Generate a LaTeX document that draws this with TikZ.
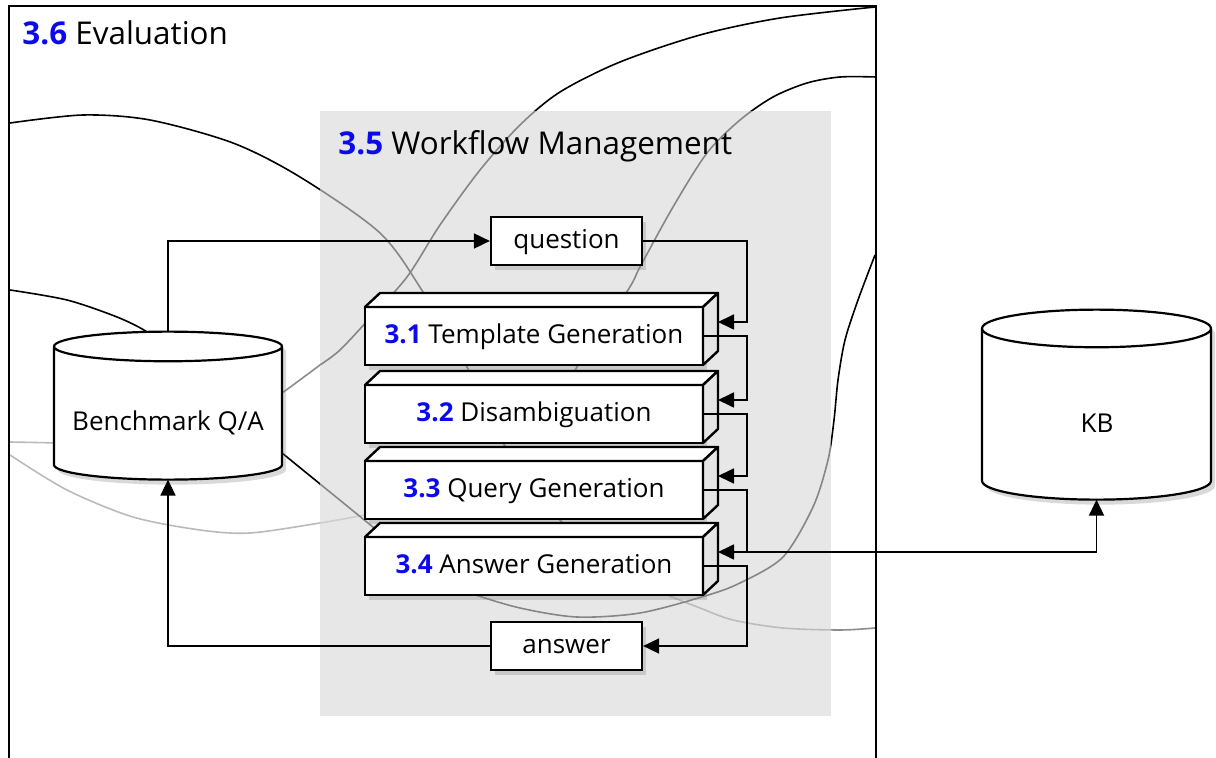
\documentclass[tikz,border=0pt]{standalone}
\usepackage{fontspec}
\setmainfont{Open Sans}
\usepackage{tikz}
\usetikzlibrary{calc}
\usetikzlibrary{positioning}
\usetikzlibrary{shapes.geometric}
\usetikzlibrary{arrows.meta}
\usetikzlibrary{shadows}
\usepackage{xcolor}
\definecolor{numblue}{RGB}{10,10,235}
\newcommand{\secno}[1]{\textcolor{numblue}{\bfseries #1}}

\begin{document}
\begin{tikzpicture}[
		x=0.5pt, y=-0.5pt,
		font=\fontsize{13}{15}\selectfont,
		boxshadow/.style = {drop shadow={opacity=0.3, shadow xshift=2pt, shadow yshift=-2.5pt}},
		stepbox/.style = {rectangle, draw, fill=white, line width=1.2pt, outer sep=0pt, minimum width=169pt, minimum height=29pt, inner sep=0pt, text height=0.72em, text depth=0pt, boxshadow},
		face/.style = {draw, line width=1.2pt, line join=round},
		io/.style = {rectangle, draw, fill=white, line width=1.1pt, minimum width=75.5pt, minimum height=24pt, inner sep=0pt, text height=0.72em, text depth=0pt, boxshadow},
		db/.style = {cylinder, shape border rotate=90, draw, fill=white, line width=1.1pt, outer sep=0pt, inner xsep=57pt, boxshadow},
		title/.style = {font=\fontsize{15.7}{19}\selectfont, inner sep=0pt, anchor=base west},
		wfarea/.style = {rectangle, fill=black!15, fill opacity=0.62, inner sep=0pt, anchor=north west},
		curve/.style = {line width=0.8pt},
		r/.style = {-{Triangle[length=8pt, width=7.5pt]}, line width=0.9pt}
		]
		\useasboundingbox (0,0) rectangle (1216,758);
		
		%Curves
		\draw[curve] plot[smooth] coordinates {(10,123) (83,115) (150,120) (233,143) (300,177) (380,233) (423,292) (467,367) (503,443) (560,520) (620,570) (650,585)};
		\draw[curve, draw=black!45] plot[smooth] coordinates {(640,578) (663,593) (700,608) (733,620) (783,628) (840,630) (875,628)};
		\draw[curve] plot[smooth] coordinates {(875,7) (780,18) (700,35) (620,62) (560,92) (520,125) (480,170) (440,225) (407,277) (370,318) (340,350) (320,365)};
		\draw[curve, draw=black!45] plot[smooth] coordinates {(320,365) (282,393) (265,403)};
		\draw[curve] plot[smooth] coordinates {(876,77) (840,77) (807,83) (773,97) (740,120) (707,153) (673,207) (640,267) (628,290) (577,367) (550,420)};
		\draw[curve] plot[smooth] coordinates {(875,255) (858,300) (845,340) (838,380) (834,420) (828,460) (813,507) (783,557) (740,583) (705,596) (640,613) (577,617) (520,608) (470,593) (440,580)};
		\draw[curve] plot[smooth] coordinates {(10,290) (67,300) (117,317) (147,332) (165,350)};
		\draw[curve, draw=black!27] (10,442) -- (60,443);
		\draw[curve, draw=black!27] plot[smooth] coordinates {(10,455) (67,490) (133,517) (200,530) (250,533) (320,523) (365,515) (390,511)};
		\draw[curve] (282,453) -- (395,545);
		
		%Areas
		\node[wfarea, minimum width=255.5pt, minimum height=302.5pt] (wf) at (320,111) {};
		\draw[line width=1.1pt] (9,780) |- (876,6) -- (876,780);
		\node[title] (evalTitle) at (22,45) {\secno{3.6} Evaluation};
		\node[title] (wfTitle) at (338,155) {\secno{3.5} Workflow Management};
		
		%Nodes
		\node[db, minimum width=114pt, minimum height=74pt, shape aspect=0.13] (bqa) at (168,421) {};
		\node (bqaText) at (168,423) {Benchmark Q/A};
		\node[db, minimum width=114.5pt, minimum height=95pt, shape aspect=0.165] (kb) at (1096.5,424) {};
		\node (kbText) at (1097,423) {KB};
		\node[io] (question) at (566.5,241) {question};
		\node[io] (answer) at (566.5,646) {answer};
		\node[stepbox] (s1) at (534,336) {\secno{3.1} Template Generation};
		\node[stepbox] (s2) at (534,414) {\secno{3.2} Disambiguation};
		\node[stepbox] (s3) at (534,490) {\secno{3.3} Query Generation};
		\node[stepbox] (s4) at (534,566) {\secno{3.4} Answer Generation};
		\foreach \s in {s1,s2,s3,s4}{
			\draw[face, fill=white] (\s.north west) -- ++(15,-14) -- ($(\s.north east)+(15,-14)$) -- (\s.north east) -- cycle;
			\draw[face, fill=black!10] (\s.north east) -- ++(15,-14) -- ($(\s.south east)+(15,-14)$) -- (\s.south east) -- cycle;
			\coordinate (\s-in) at ($(\s.east)+(15,-14)$);
		}
		
		%Lines
		\draw[r] (bqa.north) |- (question.west);
		\draw[r] (question.east) -| ($(s1-in)+(29,0)$) -- (s1-in);
		\draw[r] (s1.east) -- ++(44,0) |- (s2-in);
		\draw[r] (s2.east) -- ++(44,0) |- (s3-in);
		\draw[r] (s3.east) -- ++(44,0) |- ($(s4-in)+(29,0)$) -| (kb.south);
		\draw[r] (kb.south) |- (s4-in);
		\draw[r] (s4.east) -- ++(44,0) |- (answer.east);
		\draw[r] (answer.west) -| (bqa.south);
	\end{tikzpicture}
\end{document}
